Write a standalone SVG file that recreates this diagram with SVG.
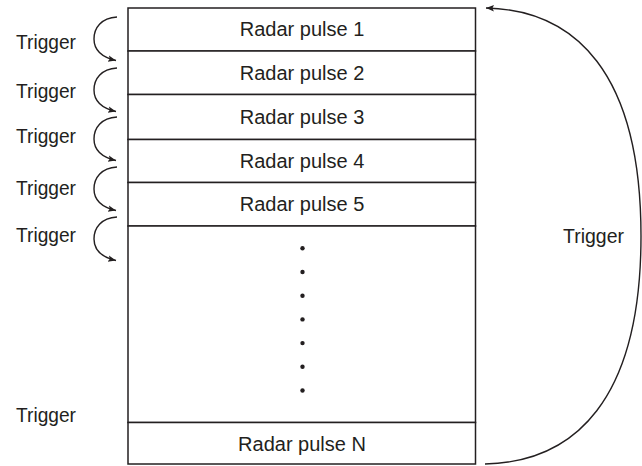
<svg xmlns="http://www.w3.org/2000/svg" width="642" height="466" viewBox="0 0 642 466">
<style>
.row{fill:#fff;stroke:#231f20;stroke-width:1.5}
.lbl{font-family:"Liberation Sans",Arial,sans-serif;font-size:20px;fill:#231f20;text-anchor:middle}
.trg{font-family:"Liberation Sans",Arial,sans-serif;font-size:21px;fill:#231f20}
.arc{fill:none;stroke:#231f20;stroke-width:1.4}
.dot{fill:#231f20}
</style>
<defs>
<marker id="ah" markerUnits="userSpaceOnUse" markerWidth="9" markerHeight="8" refX="8" refY="4" orient="auto-start-reverse">
<path d="M0,0.8 L8,4 L0,7.2 L1.6,4 z" fill="#231f20"/>
</marker>
<path id="loop" d="M117,17 C101,18 94,28 94,39 C94,50 101,57 116,60.5"/>
</defs>
<rect width="642" height="466" fill="#fff"/>
<g id="pulse1"><rect class="row" x="128" y="8" width="347.5" height="43"/><text class="lbl" x="302" y="36">Radar pulse 1</text></g>
<g id="pulse2"><rect class="row" x="128" y="51" width="347.5" height="43.5"/><text class="lbl" x="302" y="79.5">Radar pulse 2</text></g>
<g id="pulse3"><rect class="row" x="128" y="94.5" width="347.5" height="45"/><text class="lbl" x="302" y="124">Radar pulse 3</text></g>
<g id="pulse4"><rect class="row" x="128" y="139.5" width="347.5" height="43"/><text class="lbl" x="302" y="168">Radar pulse 4</text></g>
<g id="pulse5"><rect class="row" x="128" y="182.5" width="347.5" height="43.5"/><text class="lbl" x="302" y="211">Radar pulse 5</text></g>
<g id="gap"><rect class="row" x="128" y="226" width="347.5" height="196.5"/>
<circle class="dot" cx="302.5" cy="248.3" r="2.2"/>
<circle class="dot" cx="302.5" cy="272" r="2.2"/>
<circle class="dot" cx="302.5" cy="295.7" r="2.2"/>
<circle class="dot" cx="302.5" cy="319.4" r="2.2"/>
<circle class="dot" cx="302.5" cy="343.1" r="2.2"/>
<circle class="dot" cx="302.5" cy="366.8" r="2.2"/>
<circle class="dot" cx="302.5" cy="390.5" r="2.2"/>
</g>
<g id="pulseN"><rect class="row" x="128" y="422.5" width="347.5" height="41.5"/><text class="lbl" x="302" y="450.5">Radar pulse N</text></g>
<g id="labels">
<text class="trg" x="16" y="48.5" textLength="60" lengthAdjust="spacingAndGlyphs">Trigger</text>
<text class="trg" x="16" y="98" textLength="60" lengthAdjust="spacingAndGlyphs">Trigger</text>
<text class="trg" x="16" y="142.5" textLength="60" lengthAdjust="spacingAndGlyphs">Trigger</text>
<text class="trg" x="16" y="194.5" textLength="60" lengthAdjust="spacingAndGlyphs">Trigger</text>
<text class="trg" x="16" y="241.5" textLength="60" lengthAdjust="spacingAndGlyphs">Trigger</text>
<text class="trg" x="16" y="421.5" textLength="60" lengthAdjust="spacingAndGlyphs">Trigger</text>
<text class="trg" x="563" y="242.5" textLength="61" lengthAdjust="spacingAndGlyphs">Trigger</text>
</g>
<g id="connectors">
<use href="#loop" class="arc" marker-end="url(#ah)"/>
<use href="#loop" class="arc" marker-end="url(#ah)" transform="translate(0,51)"/>
<use href="#loop" class="arc" marker-end="url(#ah)" transform="translate(0,100)"/>
<use href="#loop" class="arc" marker-end="url(#ah)" transform="translate(0,150)"/>
<use href="#loop" class="arc" marker-end="url(#ah)" transform="translate(0,200)"/>
<path class="arc" d="M485,464 C575,462 641,400 641,236 C641,72 575,10 486,8" marker-end="url(#ah)"/>
</g>
</svg>
